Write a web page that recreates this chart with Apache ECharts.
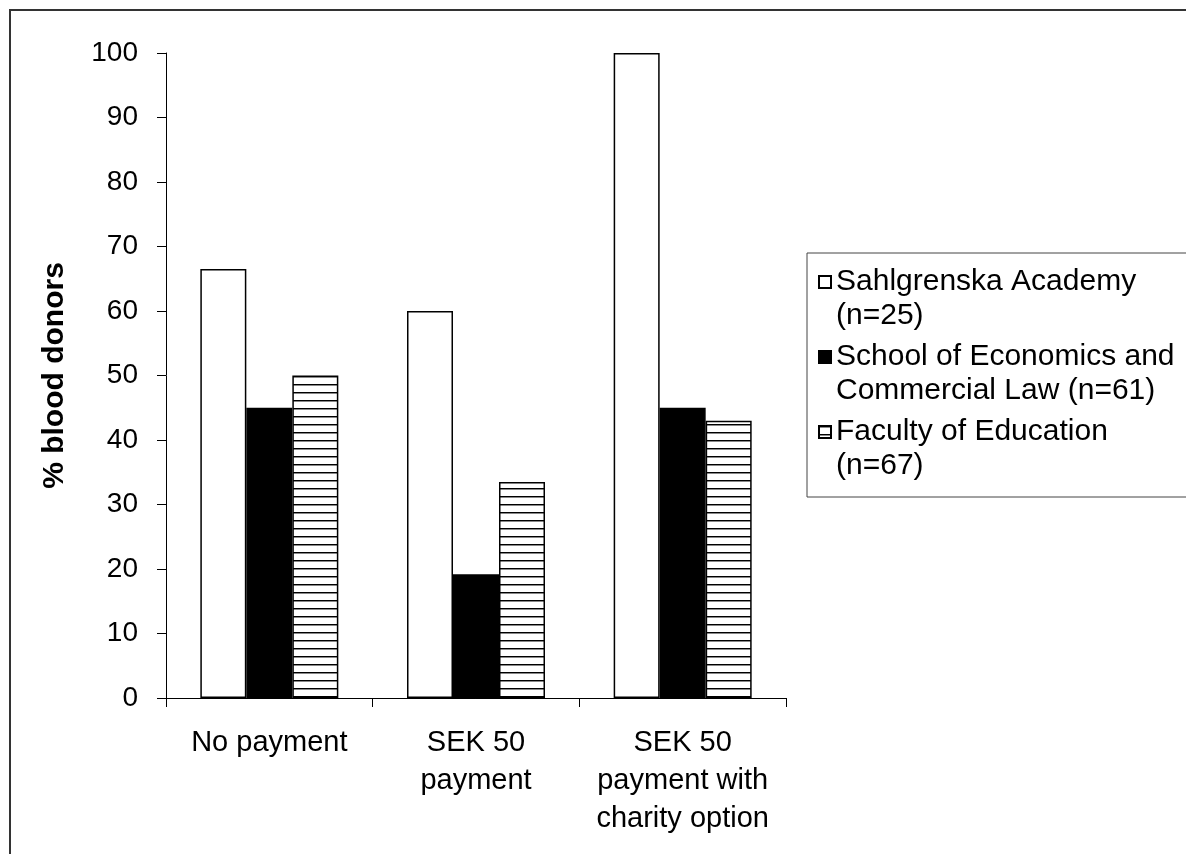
<!DOCTYPE html>
<html>
<head>
<meta charset="utf-8">
<script src="https://cdn.jsdelivr.net/npm/echarts@6/dist/echarts.min.js"></script>
<style>
  html, body { margin: 0; padding: 0; background: #fff; }
  #chart { width: 1186px; height: 854px; }
</style>
</head>
<body>
<div id="chart"></div>
<script>
// categories & series values
var categories = ['No payment', 'SEK 50\npayment', 'SEK 50\npayment with\ncharity option'];
var seriesNames = ['Sahlgrenska Academy\n(n=25)', 'School of Economics and\nCommercial Law (n=61)', 'Faculty of Education\n(n=67)'];
var sahlgrenska = [66.5, 60, 100];
var economics = [45, 19.2, 45];
var education = [50, 33.5, 43];
var yTicks = [0, 10, 20, 30, 40, 50, 60, 70, 80, 90, 100];

// horizontal hatch pattern
function makeHatch() {
    var c = document.createElement('canvas');
    c.width = 8;
    c.height = 8;
    var ctx = c.getContext('2d');
    ctx.fillStyle = '#fff';
    ctx.fillRect(0, 0, 8, 8);
    ctx.fillStyle = '#000';
    ctx.fillRect(0, 0, 8, 1);
    ctx.fillStyle = '#888';
    ctx.fillRect(0, 1, 8, 1);
    return c;
}
var hatch = { image: makeHatch(), repeat: 'repeat' };

var font = 'Liberation Sans, Arial, sans-serif';
var chart = echarts.init(document.getElementById('chart'));

var barStyle = function (fill) {
    return { color: fill, borderColor: '#000', borderWidth: 1.5 };
};

var option = {
    animation: false,
    backgroundColor: '#fff',
    grid: { left: 166, top: 53, right: 400, bottom: 156 },
    legend: {
        orient: 'vertical',
        left: 818,
        top: 231,
        icon: 'rect',
        itemWidth: 12,
        itemHeight: 12,
        itemGap: -27,
        padding: 0,
        // empty first line so the icon sits beside the first text line
        formatter: function (name) { return '\n' + name; },
        textStyle: { fontFamily: font, fontSize: 30, color: '#000', lineHeight: 34 },
        data: seriesNames
    },
    xAxis: {
        type: 'category',
        data: categories,
        axisLine: { lineStyle: { color: '#000', width: 1 } },
        axisTick: { show: true, length: 9, lineStyle: { color: '#000' } },
        axisLabel: {
            interval: 0, margin: 26, color: '#000',
            fontFamily: font, fontSize: 29, lineHeight: 38
        }
    },
    yAxis: {
        type: 'value',
        min: 0,
        max: 100,
        interval: 10,
        name: '% blood donors',
        nameLocation: 'middle',
        nameGap: 96,
        nameTextStyle: { fontFamily: font, fontSize: 30, fontWeight: 'bold', color: '#000' },
        axisLine: { show: true, lineStyle: { color: '#000', width: 1 } },
        axisTick: { show: true, length: 9, lineStyle: { color: '#000' } },
        splitLine: { show: false },
        axisLabel: {
            margin: 28, color: '#000', fontFamily: font, fontSize: 28,
            formatter: function (v) { return yTicks.indexOf(v) >= 0 ? String(v) : ''; }
        }
    },
    series: [
        { name: seriesNames[0], type: 'bar', data: sahlgrenska, barWidth: 46, barGap: '0%', itemStyle: barStyle('#fff') },
        { name: seriesNames[1], type: 'bar', data: economics, barWidth: 46, barGap: '0%', itemStyle: barStyle('#000') },
        { name: seriesNames[2], type: 'bar', data: education, barWidth: 46, barGap: '0%', itemStyle: barStyle(hatch) }
    ],
    graphic: [
        {   // outer frame (top and left edges only)
            type: 'polyline',
            shape: { points: [[10, 854], [10, 10], [1190, 10]] },
            style: { fill: 'none', stroke: '#333', lineWidth: 2 }
        },
        {   // legend box
            type: 'rect',
            shape: { x: 807, y: 253, width: 400, height: 244 },
            style: { fill: 'none', stroke: '#444', lineWidth: 1 }
        }
    ]
};
chart.setOption(option);
</script>
</body>
</html>
